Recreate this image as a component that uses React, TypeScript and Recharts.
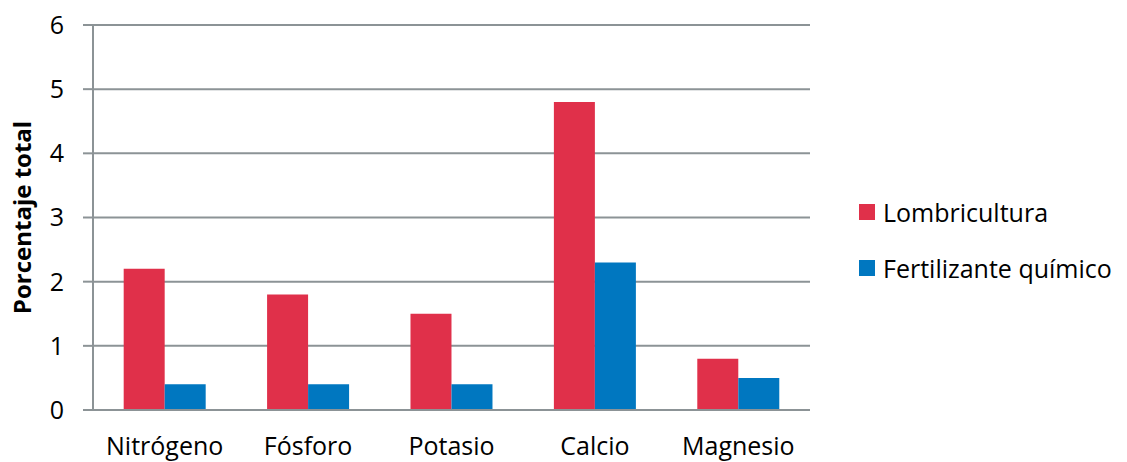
import { BarChart, Bar, XAxis, YAxis, CartesianGrid } from 'recharts'

const categories = ['Nitrógeno', 'Fósforo', 'Potasio', 'Calcio', 'Magnesio']
const lombricultura = [2.2, 1.8, 1.5, 4.8, 0.8]
const fertilizante = [0.4, 0.4, 0.4, 2.3, 0.5]
const yTicks = [0, 1, 2, 3, 4, 5, 6]

const RED = '#E0304A'
const BLUE = '#0077C0'
const GRID = '#8C9396'
const FONT = '"Open Sans", sans-serif'

const series = [
  { key: 'lombricultura', name: 'Lombricultura', color: RED },
  { key: 'fertilizante', name: 'Fertilizante químico', color: BLUE },
]

const data = categories.map((c, i) => ({
  name: c,
  lombricultura: lombricultura[i],
  fertilizante: fertilizante[i],
}))

function LegendBox() {
  return (
    <div style={{ position: 'absolute', left: 859, top: 184, fontFamily: FONT, fontSize: 25, color: '#000' }}>
      {series.map((s) => (
        <div key={s.key} style={{ display: 'flex', alignItems: 'center', height: 56, whiteSpace: 'nowrap' }}>
          <div style={{ width: 16, height: 16, background: s.color, marginRight: 8 }} />
          <span>{s.name}</span>
        </div>
      ))}
    </div>
  )
}

export default function App() {
  return (
    <div style={{ position: 'absolute', left: 0, top: 0, width: 1127, height: 462, background: '#fff' }}>
      <BarChart
        width={1127}
        height={462}
        data={data}
        margin={{ top: 25, right: 317, bottom: 2, left: 0 }}
        barCategoryGap="21.4%"
        barGap={0}
      >
        <CartesianGrid vertical={false} stroke={GRID} strokeWidth={2} />
        <XAxis
          dataKey="name"
          height={50}
          stroke={GRID}
          strokeWidth={2}
          tickLine={false}
          tickMargin={21}
          interval={0}
          tick={{ fontFamily: FONT, fontSize: 25, fill: '#000' }}
        />
        <YAxis
          width={93}
          domain={[0, 6]}
          ticks={yTicks}
          stroke={GRID}
          strokeWidth={2}
          tickSize={10}
          tickMargin={19}
          tick={{ fontFamily: FONT, fontSize: 25, fill: '#000' }}
          label={{
            value: 'Porcentaje total',
            angle: -90,
            position: 'insideLeft',
            dx: 17,
            style: { fontFamily: FONT, fontSize: 24, fontWeight: 700, fill: '#000', textAnchor: 'middle' },
          }}
        />
        {series.map((s) => (
          <Bar key={s.key} dataKey={s.key} name={s.name} fill={s.color} isAnimationActive={false} />
        ))}
      </BarChart>
      <LegendBox />
    </div>
  )
}
